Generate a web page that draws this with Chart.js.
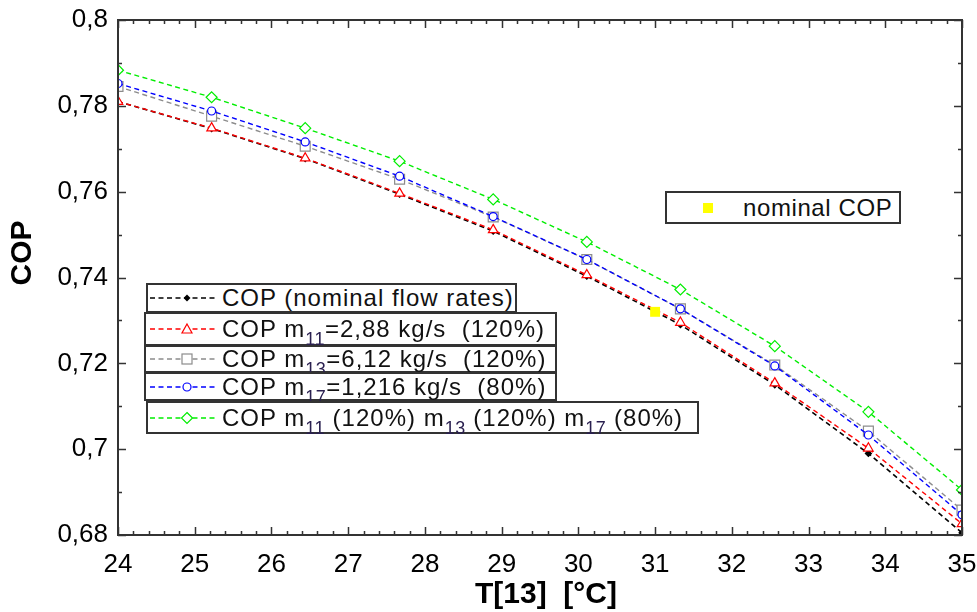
<!DOCTYPE html>
<html lang="en">
<head>
	<meta charset="utf-8" />
	<title>COP vs T[13]</title>
	<script src="https://cdn.jsdelivr.net/npm/chart.js@4.4.1/dist/chart.umd.min.js"></script>
	<style>
		html, body { margin: 0; padding: 0; background: #fff; }
		#wrap { position: relative; width: 977px; height: 612px; }
		.lg {
			position: absolute; box-sizing: border-box; border: 2px solid #333; background: #fff;
			font-family: "Liberation Sans", Arial, sans-serif; font-size: 24px; color: #111;
			white-space: nowrap; display: flex; align-items: center; letter-spacing: 1px;
		}
		.lg svg { flex: none; margin-right: 4px; }
		.lg sub { font-size: 18px; vertical-align: -8px; line-height: 0; letter-spacing: 0.5px; color: #2a2050; }
		.sw { display: inline-block; width: 10px; height: 10px; background: #ffff00; margin-left: 36px; margin-right: 30px; }
	</style>
</head>
<body>
	<div id="wrap">
		<canvas id="copChart" width="977" height="612"></canvas>
		<div id="legend"></div>
	</div>

	<script>
		// T[13] in °C, same for every series
		const temps = [24, 25.22, 26.44, 27.67, 28.89, 30.11, 31.33, 32.56, 33.78, 35];

		// COP values
		const copNominal = [0.7810, 0.7747, 0.7677, 0.7594, 0.7508, 0.7403, 0.7290, 0.7150, 0.6990, 0.6805];
		const copM11     = [0.7810, 0.7748, 0.7678, 0.7596, 0.7511, 0.7406, 0.7295, 0.7154, 0.7002, 0.6826];
		const copM13     = [0.7845, 0.7776, 0.7706, 0.7629, 0.7541, 0.7442, 0.7327, 0.7196, 0.7042, 0.6858];
		const copM17     = [0.7852, 0.7788, 0.7716, 0.7636, 0.7542, 0.7442, 0.7327, 0.7194, 0.7033, 0.6847];
		const copAll     = [0.7883, 0.7820, 0.7748, 0.7671, 0.7582, 0.7483, 0.7372, 0.7240, 0.7087, 0.6905];

		const nominalT = [31.0];
		const nominalCop = [0.732];

		const xTicks = [24, 25, 26, 27, 28, 29, 30, 31, 32, 33, 34, 35];
		const yTicks = [0.68, 0.70, 0.72, 0.74, 0.76, 0.78, 0.80];

		const seriesLabels = [
			'COP (nominal flow rates)',
			'COP m<sub>11</sub>=2,88 kg/s&nbsp; (120%)',
			'COP m<sub>13</sub>=6,12 kg/s&nbsp; (120%)',
			'COP m<sub>17</sub>=1,216 kg/s&nbsp; (80%)',
			'COP m<sub>11</sub> (120%) m<sub>13</sub> (120%) m<sub>17</sub> (80%)'
		];
		const nominalLabel = 'nominal COP';

		const FONT = "'Liberation Sans', Arial, sans-serif";

		function pts(xs, ys) {
			return xs.map((x, i) => ({ x: x, y: ys[i] }));
		}

		function series(values, color, style, radius, fill, order, width) {
			return {
				data: pts(temps, values),
				showLine: true,
				borderColor: color,
				borderWidth: width || 1.4,
				borderDash: [5, 3.5],
				pointStyle: style,
				pointRadius: radius,
				pointBorderWidth: 1.2,
				pointBorderColor: color,
				pointBackgroundColor: fill,
				order: order
			};
		}

		const datasets = [
			series(copNominal, '#000000', 'rectRot', 3, '#000000', 4, 1.6),
			series(copM11, '#ff0000', 'triangle', 5.5, '#ffffff', 1),
			series(copM13, '#8c8c8c', 'rect', 7, '#ffffff', 5),
			series(copM17, '#0000ff', 'circle', 4, '#ffffff', 2),
			series(copAll, '#00ee00', 'rectRot', 5.5, '#ffffff', 3),
			{
				data: pts(nominalT, nominalCop),
				showLine: false,
				pointStyle: 'rect',
				pointRadius: 7,
				pointBorderWidth: 0,
				pointBackgroundColor: '#ffff00',
				order: 0
			}
		];

		// frame, inward ticks on all four sides, axis titles
		const framePlugin = {
			id: 'frame',
			afterDraw(chart) {
				const ctx = chart.ctx;
				const a = chart.chartArea;
				const x = chart.scales.x;
				const y = chart.scales.y;
				ctx.save();
				ctx.strokeStyle = '#333';
				ctx.lineWidth = 1.5;
				ctx.beginPath();
				for (let i = 0; i <= 55; i++) {
					const px = Math.round(x.getPixelForValue(24 + i * 0.2)) + 0.5;
					const len = i % 5 === 0 ? 8 : 4;
					ctx.moveTo(px, a.bottom); ctx.lineTo(px, a.bottom - len);
					ctx.moveTo(px, a.top); ctx.lineTo(px, a.top + len);
				}
				for (let i = 0; i <= 12; i++) {
					const py = Math.round(y.getPixelForValue(0.68 + i * 0.01)) + 0.5;
					const len = i % 2 === 0 ? 8 : 4;
					ctx.moveTo(a.left, py); ctx.lineTo(a.left + len, py);
					ctx.moveTo(a.right, py); ctx.lineTo(a.right - len, py);
				}
				ctx.stroke();
				ctx.lineWidth = 2;
				ctx.strokeRect(a.left, a.top, a.right - a.left, a.bottom - a.top);

				ctx.fillStyle = '#000';
				ctx.font = 'bold 30px ' + FONT;
				ctx.textAlign = 'center';
				ctx.textBaseline = 'middle';
				ctx.fillText('T[13]  [°C]', 546, 595);
				ctx.translate(23, 253);
				ctx.rotate(-Math.PI / 2);
				ctx.fillText('COP', 0, 0);
				ctx.restore();
			}
		};

		function renderChart() {
			const ctx = document.querySelector('#copChart').getContext('2d');
			new Chart(ctx, {
				type: 'scatter',
				data: { datasets: datasets },
				options: {
					responsive: false,
					animation: false,
					layout: { padding: { left: 0, top: 20, right: 15, bottom: 0 } },
					plugins: { legend: { display: false }, tooltip: { enabled: false } },
					scales: {
						x: {
							type: 'linear', min: 24, max: 35,
							grid: { display: false, drawTicks: false },
							border: { display: false },
							ticks: {
								padding: 14, color: '#000', autoSkip: false, maxRotation: 0,
								font: { family: FONT, size: 26 },
								callback: v => String(v)
							},
							afterBuildTicks: s => { s.ticks = xTicks.map(v => ({ value: v })); },
							afterFit: s => { s.height = 77; s.paddingLeft = 0; s.paddingRight = 0; }
						},
						y: {
							type: 'linear', min: 0.68, max: 0.8,
							grid: { display: false, drawTicks: false },
							border: { display: false },
							ticks: {
								padding: 10, color: '#000',
								font: { family: FONT, size: 26 },
								callback: v => String(+v.toFixed(2)).replace('.', ',')
							},
							afterBuildTicks: s => { s.ticks = yTicks.map(v => ({ value: v })); },
							afterFit: s => { s.width = 118; s.paddingTop = 0; s.paddingBottom = 0; }
						}
					}
				},
				plugins: [framePlugin]
			});
		}

		// legend boxes, drawn as html over the canvas
		const boxes = [
			{ l: 146, t: 283, w: 371, h: 30 },
			{ l: 144, t: 312, w: 413, h: 34 },
			{ l: 144, t: 345, w: 413, h: 28 },
			{ l: 144, t: 372, w: 413, h: 29 },
			{ l: 146, t: 401, w: 553, h: 33 }
		];

		function marker(i) {
			const c = datasets[i].borderColor;
			const m = 37, cy = 12;
			if (i === 0) return `<polygon points="${m},${cy - 3.5} ${m + 3.5},${cy} ${m},${cy + 3.5} ${m - 3.5},${cy}" fill="#000"/>`;
			if (i === 1) return `<polygon points="${m},${cy - 5} ${m + 5},${cy + 4} ${m - 5},${cy + 4}" fill="#fff" stroke="${c}" stroke-width="1.2"/>`;
			if (i === 2) return `<rect x="${m - 5}" y="${cy - 5}" width="10" height="10" fill="#fff" stroke="${c}" stroke-width="1.2"/>`;
			if (i === 3) return `<circle cx="${m}" cy="${cy}" r="4" fill="#fff" stroke="${c}" stroke-width="1.2"/>`;
			return `<polygon points="${m},${cy - 5.5} ${m + 5.5},${cy} ${m},${cy + 5.5} ${m - 5.5},${cy}" fill="#fff" stroke="${c}" stroke-width="1.2"/>`;
		}

		function renderLegend() {
			const host = document.querySelector('#legend');
			let html = '';
			boxes.forEach((b, i) => {
				const c = datasets[i].borderColor;
				const ml = 150 - b.l - 2;
				html += `<div class="lg" style="left:${b.l}px;top:${b.t}px;width:${b.w}px;height:${b.h}px">` +
					`<svg width="68" height="24" style="margin-left:${ml}px"><line x1="0" y1="12" x2="68" y2="12" stroke="${c}" stroke-width="1.4" stroke-dasharray="5 3.5"/>${marker(i)}</svg>` +
					`<span>${seriesLabels[i]}</span></div>`;
			});
			html += `<div class="lg" style="left:665px;top:191px;width:236px;height:33px;letter-spacing:0.6px"><span class="sw"></span><span>${nominalLabel}</span></div>`;
			host.innerHTML = html;
		}

		renderChart();
		renderLegend();
	</script>
</body>
</html>
